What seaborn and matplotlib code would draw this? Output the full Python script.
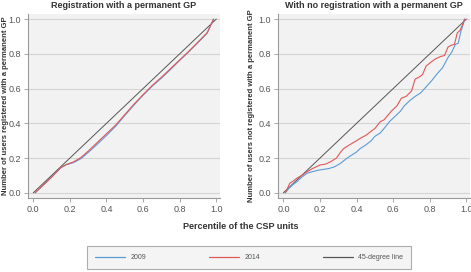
import matplotlib
matplotlib.use("Agg")
import matplotlib.pyplot as plt
import numpy as np
import pandas as pd
import seaborn as sns

# left panel: registered with a permanent GP
reg_x = [0.01, 0.05, 0.10, 0.15, 0.18, 0.22, 0.26, 0.30, 0.35, 0.40, 0.45, 0.50,
         0.55, 0.60, 0.65, 0.70, 0.75, 0.80, 0.85, 0.90, 0.95, 0.985]
reg_2014 = [0.0, 0.04, 0.09, 0.145, 0.163, 0.178, 0.203, 0.24, 0.29, 0.34, 0.39, 0.45,
            0.51, 0.565, 0.618, 0.665, 0.715, 0.765, 0.815, 0.868, 0.922, 1.0]
reg_2009 = [0.0, 0.04, 0.09, 0.144, 0.161, 0.174, 0.196, 0.232, 0.28, 0.33, 0.383, 0.445,
            0.505, 0.562, 0.614, 0.66, 0.71, 0.762, 0.812, 0.865, 0.918, 1.0]

# right panel: not registered with a permanent GP
noreg_x_2014 = [0.01, 0.02, 0.035, 0.05, 0.075, 0.10, 0.13, 0.16, 0.20, 0.23, 0.26, 0.29,
                0.313, 0.33, 0.36, 0.40, 0.43, 0.45, 0.48, 0.50, 0.53, 0.55, 0.59, 0.62,
                0.645, 0.67, 0.70, 0.72, 0.74, 0.76, 0.78, 0.81, 0.83, 0.86, 0.88, 0.90,
                0.92, 0.935, 0.95, 0.965, 0.98, 0.99]
noreg_2014 = [0.0, 0.02, 0.055, 0.065, 0.085, 0.10, 0.122, 0.14, 0.16, 0.165, 0.18, 0.20,
              0.235, 0.255, 0.275, 0.30, 0.32, 0.33, 0.355, 0.37, 0.41, 0.42, 0.47, 0.50,
              0.545, 0.555, 0.585, 0.655, 0.665, 0.68, 0.73, 0.755, 0.77, 0.785, 0.79, 0.84,
              0.85, 0.855, 0.92, 0.935, 0.97, 1.0]
noreg_x_2009 = [0.01, 0.03, 0.05, 0.075, 0.10, 0.13, 0.16, 0.19, 0.22, 0.25, 0.28, 0.31,
                0.345, 0.37, 0.40, 0.42, 0.45, 0.48, 0.50, 0.53, 0.55, 0.58, 0.61, 0.64,
                0.66, 0.69, 0.72, 0.75, 0.78, 0.81, 0.84, 0.87, 0.90, 0.92, 0.94, 0.955,
                0.97, 0.98, 0.99]
noreg_2009 = [0.0, 0.025, 0.045, 0.065, 0.09, 0.113, 0.122, 0.13, 0.135, 0.14, 0.15, 0.168,
              0.197, 0.215, 0.235, 0.255, 0.275, 0.30, 0.325, 0.345, 0.37, 0.41, 0.44, 0.47,
              0.50, 0.53, 0.555, 0.575, 0.61, 0.645, 0.685, 0.72, 0.78, 0.81, 0.855, 0.86,
              0.93, 0.96, 1.0]

diag = [0.0, 1.0]

titles = ["Registration with a permanent GP", "With no registration with a permanent GP"]
ylabels = ["Number of users registered with a permanent GP",
           "Number of users not registered with a permanent GP"]
xlabel = "Percentile of the CSP units"
series = ["2009", "2014", "45-degree line"]
ticks = [0.0, 0.2, 0.4, 0.6, 0.8, 1.0]

c2009 = "#5b9bd5"
c2014 = "#e15759"
cdiag = "#555555"
colors = [c2009, c2014, cdiag]

sns.set_style("whitegrid", {
    "axes.facecolor": "#f2f2f2",
    "axes.edgecolor": "#9a9a9a",
    "grid.color": "#d4d4d4",
    "xtick.bottom": True,
    "ytick.left": True,
    "xtick.color": "#9a9a9a",
    "ytick.color": "#9a9a9a",
})
plt.rcParams["font.family"] = ["Liberation Sans", "DejaVu Sans"]

fig = plt.figure(figsize=(4.71, 2.72), dpi=100)
fig.patch.set_facecolor("white")
ax1 = fig.add_axes([0.059, 0.272, 0.408, 0.677])
ax2 = fig.add_axes([0.590, 0.272, 0.408, 0.677])

panels = [
    (ax1, reg_x, reg_2009, reg_x, reg_2014),
    (ax2, noreg_x_2009, noreg_2009, noreg_x_2014, noreg_2014),
]

for i, (ax, x09, y09, x14, y14) in enumerate(panels):
    sns.lineplot(x=diag, y=diag, ax=ax, color=cdiag, lw=0.7, legend=False,
                 sort=False, estimator=None)
    sns.lineplot(x=x09, y=y09, ax=ax, color=c2009, lw=0.8, legend=False,
                 sort=False, estimator=None)
    sns.lineplot(x=x14, y=y14, ax=ax, color=c2014, lw=0.8, legend=False,
                 sort=False, estimator=None)
    ax.set_xlim(-0.03, 1.02)
    ax.set_ylim(-0.03, 1.03)
    ax.set_xticks(ticks)
    ax.set_yticks(ticks)
    ax.set_xticklabels([f"{t:.1f}" for t in ticks])
    ax.set_yticklabels([f"{t:.1f}" for t in ticks])
    ax.grid(axis="x", visible=False)
    ax.grid(axis="y", lw=0.8)
    ax.tick_params(labelsize=6.5, labelcolor="#555555", length=3, width=0.6, pad=2)
    for s in ["top", "right"]:
        ax.spines[s].set_visible(False)
    for s in ["left", "bottom"]:
        ax.spines[s].set_linewidth(0.8)
    ax.set_title(titles[i], fontsize=6.5, fontweight="bold", color="#333333", pad=4)
    ax.set_xlabel("")

# y labels placed by hand so they sit like the reference
fig.text(0.012, 0.61, ylabels[0], rotation=90, ha="center", va="center",
         fontsize=5.5, fontweight="bold", color="#333333")
fig.text(0.534, 0.61, ylabels[1], rotation=90, ha="center", va="center",
         fontsize=5.5, fontweight="bold", color="#333333")

fig.text(0.512, 0.168, xlabel, ha="center", va="center", fontsize=6.5,
         fontweight="bold", color="#333333")

handles = [plt.Line2D([], [], color=c, lw=0.9) for c in colors]
leg = fig.legend(handles, series,
                 loc="lower left", bbox_to_anchor=(0.185, 0.011, 0.688, 0.08),
                 ncol=3, mode="expand", fontsize=5, handlelength=4.3,
                 borderpad=1.15, frameon=True, fancybox=False, borderaxespad=0)
leg.get_frame().set_facecolor("#f2f2f2")
leg.get_frame().set_edgecolor("#9a9a9a")
leg.get_frame().set_linewidth(0.8)
for t in leg.get_texts():
    t.set_color("#555555")

fig.savefig("out.png", dpi=100, facecolor="white")
